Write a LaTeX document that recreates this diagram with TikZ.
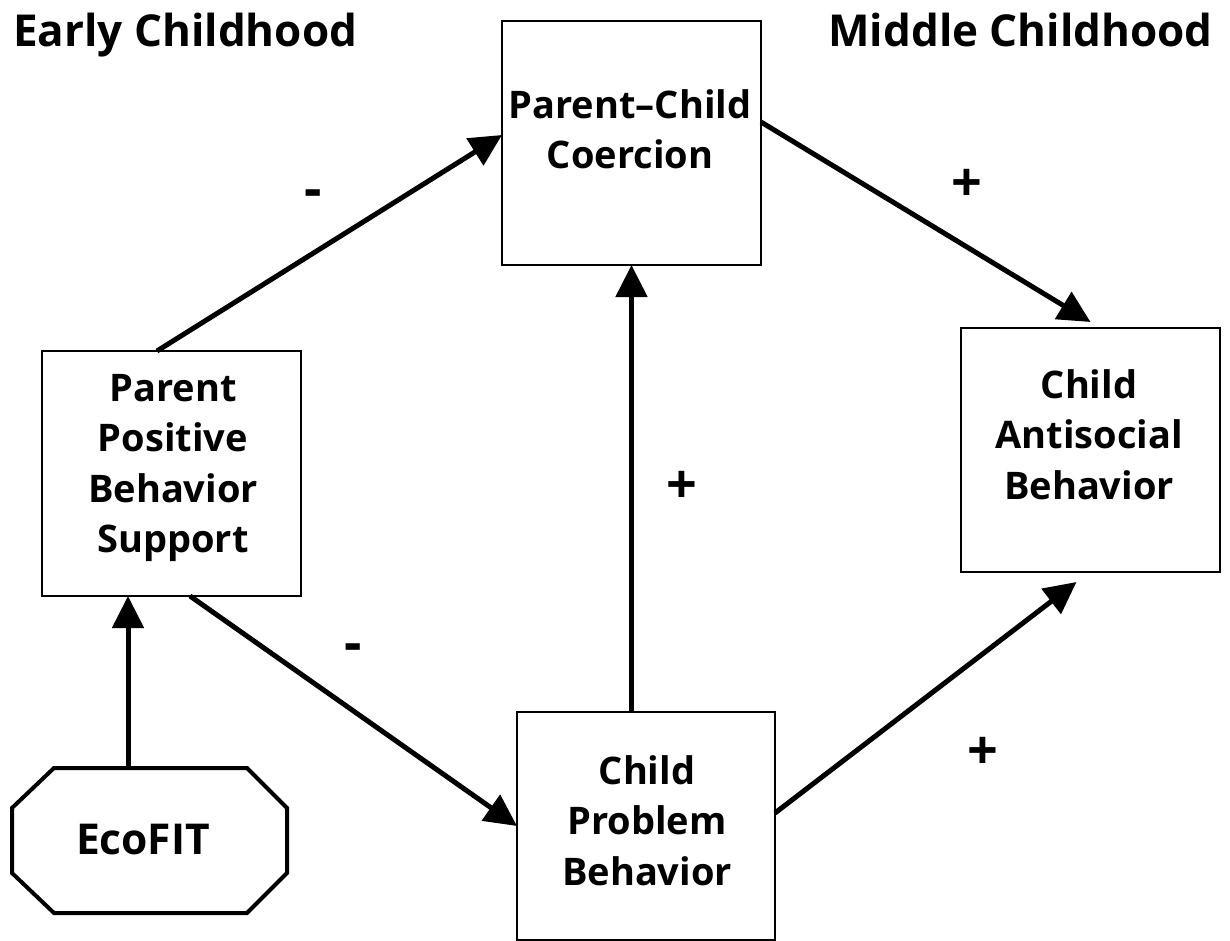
\documentclass[tikz,border=0pt]{standalone}
\usepackage{fontspec}
\setmainfont{Open Sans}
\usetikzlibrary{arrows.meta}
\tikzset{
  box/.style={draw, line width=2pt, minimum width=259pt, minimum height=244pt, inner sep=0pt, outer sep=0pt},
  lbl/.style={font=\bfseries\fontsize{38}{50.5}\selectfont, align=center, inner sep=0pt, anchor=north},
  head/.style={font=\bfseries\fontsize{44}{56}\selectfont, inner sep=0pt},
  sign/.style={font=\bfseries\fontsize{54}{56}\selectfont, inner sep=0pt},
  conn/.style={line width=5pt, -{Triangle[length=32pt, width=31pt]}},
}
\begin{document}
\begin{tikzpicture}[x=1pt, y=-1pt]
\useasboundingbox (0,0) rectangle (1230,941);
% boxes
\node[box] (coer) at (631.5,143) {};
\node[box, minimum height=245pt] (ppbs) at (171.5,473.5) {};
\node[box] (ant) at (1090.5,450) {};
\node[box, minimum width=258pt, minimum height=228pt] (prob) at (646,826) {};
% box texts
\node[lbl] (coerT) at (630,89) {Parent–Child\\Coercion};
\node[lbl] (ppbsT) at (173,374) {Parent\\Positive\\Behavior\\Support};
\node[lbl] (antT) at (1089,369) {Child\\Antisocial\\Behavior};
\node[lbl] (probT) at (647,755) {Child\\Problem\\Behavior};
% EcoFIT octagon
\draw[line width=4pt, line join=miter] (54,768) -- (247,768) -- (287,808) -- (287,873) -- (247,913) -- (54,913) -- (12,873) -- (12,808) -- cycle;
\coordinate (ecotop) at (128,768);
\node[font=\bfseries\fontsize{42.5}{50}\selectfont, inner sep=0pt] (eco) at (143,840) {EcoFIT};
% headings
\node[head, anchor=base west] (early) at (13,47) {Early Childhood};
\node[head, anchor=base east] (middle) at (1213,47) {Middle Childhood};
% connectors
\draw[conn] ([xshift=115pt]ppbs.north west) -- ([yshift=-114pt]coer.north west);
\draw[conn] ([yshift=-101pt]coer.north east) -- ([yshift=6pt]ant.north);
\draw[conn] ([yshift=-101pt]prob.north east) -- ([xshift=-14pt,yshift=-10pt]ant.south);
\draw[conn] ([xshift=148pt]ppbs.south west) -- (prob.west);
\draw[conn] (coer.south |- prob.north) -- (coer.south);
\draw[conn] (ecotop) -- (ppbs.south -| ecotop);
% signs
\node[sign] (s1) at (313,199) {-};
\node[sign] (s2) at (967,185) {+};
\node[sign] (s3) at (983,753) {+};
\node[sign] (s4) at (353,653) {-};
\node[sign] (s5) at (682,487) {+};
\end{tikzpicture}
\end{document}
